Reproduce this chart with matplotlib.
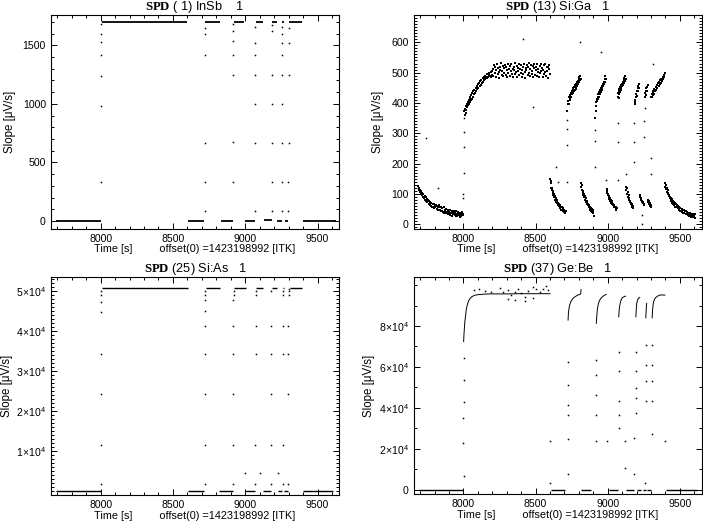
import matplotlib
matplotlib.use("Agg")
import matplotlib.pyplot as plt
from matplotlib.ticker import MultipleLocator, FixedLocator, FixedFormatter

plt.rcParams['font.family'] = ['Liberation Sans', 'DejaVu Sans']
plt.rcParams['mathtext.fontset'] = 'custom'
plt.rcParams['mathtext.rm'] = 'Liberation Sans'
plt.rcParams['mathtext.bf'] = 'Liberation Serif:bold'

# ---------------- common labels ----------------
XLABEL = "Time [s]         offset(0) =1423198992 [ITK]"
YLABEL = "Slope [\u03bcV/s]"
titles = [r"$\mathbf{SPD}$ ( 1) InSb    1", r"$\mathbf{SPD}$ (13) Si:Ga   1",
          r"$\mathbf{SPD}$ (25) Si:As   1", r"$\mathbf{SPD}$ (37) Ge:Be   1"]

# ---------------- InSb (panel 1) ----------------
insb_seg_start = [7690, 8007, 8607, 8724, 8830, 8919, 8995, 9071, 9130, 9186, 9222, 9256, 9273, 9302, 9402]
insb_seg_end   = [8000, 8600, 8718, 8826, 8914, 8988, 9066, 9126, 9182, 9218, 9252, 9270, 9296, 9395, 9625]
insb_seg_level = [0, 1700, 2, 1700, 0, 1700, 0, 1700, 6, 1700, 0, 1700, 0, 1700, 0]
insb_dot_t = [8001, 8001, 8002, 8002, 8003, 8004, 8005,
              8720, 8720, 8721, 8721, 8722, 8722,
              8915, 8915, 8916, 8916, 8917, 8917, 8918,
              9068, 9068, 9069, 9069, 9069, 9070, 9070,
              9184, 9184, 9185, 9185, 9186, 9186, 9186,
              9253, 9253, 9254, 9254, 9255, 9255, 9256, 9256, 9257,
              9298, 9298, 9299, 9299, 9300, 9300]
insb_dot_v = [330, 985, 1240, 1420, 1530, 1600, 1680,
              88, 330, 665, 1420, 1600, 1650,
              330, 672, 1246, 1417, 1540, 1625, 1680,
              88, 665, 999, 1246, 1417, 1520, 1660,
              88, 330, 665, 999, 1246, 1620, 1670,
              88, 330, 665, 999, 1246, 1417, 1520, 1600, 1660,
              88, 330, 665, 1246, 1520, 1650]

# ---------------- Si:Ga (panel 2) ----------------
siga_t1 = [7688, 7691, 7694, 7697, 7700, 7703, 7706, 7710, 7714, 7718, 7722, 7726, 7730, 7734, 7738, 7742,
           7746, 7750, 7754, 7758, 7762, 7766, 7770, 7774, 7778, 7782, 7786, 7790, 7794, 7798, 7802, 7806,
           7810, 7814, 7818, 7822, 7826, 7830, 7834, 7838, 7842, 7846, 7850, 7854, 7858, 7862, 7866, 7870,
           7874, 7878, 7882, 7886, 7890, 7894, 7898, 7902, 7906, 7910, 7914, 7918, 7922, 7926, 7930, 7934,
           7938, 7942, 7946, 7950, 7954, 7958, 7962, 7966, 7970, 7974, 7978, 7982, 7986, 7990, 7994, 7998]
siga_v1 = [125, 112, 118, 106, 114, 100, 108, 96, 104, 90, 98, 86, 93, 80, 88, 76,
           84, 72, 80, 68, 77, 64, 73, 60, 70, 58, 66, 55, 68, 52, 62, 56,
           64, 50, 60, 48, 57, 62, 46, 55, 44, 58, 42, 52, 40, 55, 38, 48,
           44, 36, 50, 40, 46, 34, 43, 38, 30, 48, 36, 42, 28, 40, 34, 45,
           30, 38, 26, 42, 33, 28, 40, 30, 36, 24, 38, 32, 27, 40, 30, 35]
siga_t2 = [8006, 8009, 8012, 8015, 8018, 8021, 8024, 8027, 8030, 8033, 8036, 8039, 8042, 8045, 8048, 8051,
           8054, 8057, 8060, 8064, 8068, 8072, 8076, 8080, 8084, 8088, 8092, 8096, 8100, 8104, 8108, 8112,
           8116, 8120, 8124, 8128, 8132, 8136, 8140, 8144, 8148, 8152, 8156, 8160, 8164, 8168, 8172, 8176,
           8180, 8184, 8188, 8192, 8196, 8200]
siga_v2 = [372, 360, 381, 368, 390, 378, 396, 385, 402, 392, 410, 398, 415, 404, 420, 410,
           426, 414, 432, 420, 438, 428, 444, 432, 450, 438, 455, 445, 461, 450, 466, 455,
           472, 460, 477, 466, 482, 470, 486, 475, 490, 478, 485, 494, 482, 497, 486, 492,
           500, 488, 503, 484, 506, 492]
siga_t3 = [8204, 8208, 8212, 8216, 8220, 8224, 8228, 8232, 8236, 8240, 8244, 8248, 8252, 8256, 8260, 8264,
           8268, 8272, 8276, 8280, 8284, 8288, 8292, 8296, 8300, 8304, 8308, 8312, 8316, 8320, 8324, 8328,
           8332, 8336, 8340, 8344, 8348, 8352, 8356, 8360, 8364, 8368, 8372, 8376, 8380, 8384, 8388, 8392,
           8396, 8400, 8404, 8408, 8412, 8416, 8420, 8424, 8428, 8432, 8436, 8440, 8444, 8448, 8452, 8456,
           8460, 8464, 8468, 8472, 8476, 8480, 8484, 8488, 8492, 8496, 8500, 8504, 8508, 8512, 8516, 8520,
           8524, 8528, 8532, 8536, 8540, 8544, 8548, 8552, 8556, 8560, 8564, 8568, 8572, 8576, 8580, 8584,
           8588, 8592, 8596, 8600]
siga_v3 = [512, 490, 524, 499, 517, 486, 508, 528, 495, 515, 502, 483, 520, 510, 531, 493,
           505, 522, 488, 514, 500, 526, 492, 517, 507, 484, 529, 498, 511, 521, 489, 504,
           527, 496, 513, 485, 519, 508, 532, 494, 501, 523, 487, 516, 506, 530, 491, 512,
           498, 525, 486, 509, 520, 495, 528, 503, 483, 515, 507, 524, 492, 518, 500, 531,
           488, 511, 526, 497, 505, 521, 484, 514, 529, 493, 508, 519, 490, 527, 502, 513,
           487, 522, 498, 530, 506, 516, 485, 510, 524, 494, 501, 528, 489, 517, 504, 520,
           483, 512, 526, 496]
siga_t4 = [8602, 8604, 8606, 8609, 8612, 8615, 8618, 8621, 8624, 8627, 8630, 8633, 8636, 8639, 8642, 8645,
           8648, 8651, 8654, 8657, 8660, 8663, 8666, 8669, 8672, 8675, 8678, 8681, 8684, 8687, 8690, 8693,
           8696, 8699, 8702, 8705, 8708]
siga_v4 = [150, 135, 142, 120, 112, 118, 102, 108, 95, 100, 88, 92, 80, 86, 74, 80,
           70, 76, 64, 70, 60, 66, 56, 62, 52, 58, 48, 55, 46, 52, 44, 50,
           40, 48, 38, 45, 42]
siga_t5 = [8720, 8723, 8726, 8729, 8732, 8735, 8738, 8741, 8744, 8747, 8750, 8753, 8756, 8759, 8762, 8765,
           8768, 8771, 8774, 8777, 8780, 8783, 8786, 8789, 8792, 8795, 8798, 8801, 8804, 8807, 8810, 8812]
siga_v5 = [372, 395, 405, 398, 418, 408, 425, 415, 432, 420, 438, 428, 442, 432, 448, 438,
           452, 443, 458, 447, 462, 452, 468, 456, 472, 462, 478, 468, 484, 474, 490, 480]
siga_t6 = [8815, 8817, 8820, 8823, 8826, 8829, 8832, 8835, 8838, 8841, 8844, 8847, 8850, 8853, 8856, 8859,
           8862, 8865, 8868, 8871, 8874, 8877, 8880, 8883, 8886, 8889, 8892, 8895, 8898, 8901, 8904]
siga_v6 = [136, 122, 128, 112, 104, 110, 96, 100, 88, 92, 80, 85, 74, 78, 68, 72,
           62, 67, 58, 62, 52, 57, 48, 53, 44, 50, 40, 46, 36, 42, 28]
siga_t7 = [8914, 8916, 8918, 8921, 8924, 8927, 8930, 8933, 8936, 8939, 8942, 8945, 8948, 8951, 8954, 8957,
           8960, 8963, 8966, 8969, 8972, 8975, 8978, 8981, 8984, 8986]
siga_v7 = [350, 372, 390, 402, 412, 405, 420, 412, 428, 420, 436, 428, 444, 436, 450, 442,
           456, 448, 462, 455, 470, 462, 478, 470, 488, 480]
siga_t8 = [8992, 8994, 8997, 9000, 9003, 9006, 9009, 9012, 9015, 9018, 9021, 9024, 9027, 9030, 9033, 9036,
           9039, 9042, 9045, 9048, 9051, 9054, 9057, 9060, 9062]
siga_v8 = [116, 104, 110, 96, 100, 88, 93, 82, 86, 76, 80, 70, 75, 66, 70, 62,
           66, 58, 62, 55, 58, 50, 55, 48, 52]
siga_t9 = [9071, 9073, 9075, 9077, 9079, 9081, 9083, 9086, 9089, 9092, 9095, 9098, 9101, 9104, 9107, 9110,
           9113, 9116, 9119, 9122, 9124]
siga_v9 = [420, 432, 415, 440, 428, 445, 435, 452, 442, 458, 448, 464, 455, 470, 460, 476,
           466, 482, 472, 488, 478]
siga_t10 = [9128, 9130, 9132, 9135, 9138, 9141, 9144, 9147, 9150, 9153, 9156, 9159, 9162, 9165, 9168, 9171,
            9174, 9176]
siga_v10 = [124, 112, 118, 100, 106, 90, 95, 80, 86, 72, 78, 66, 70, 60, 65, 56, 60, 52]
siga_t11 = [9186, 9189, 9192, 9195, 9198, 9201, 9204, 9207, 9210, 9213, 9216, 9219]
siga_v11 = [395, 410, 402, 420, 430, 422, 440, 448, 438, 455, 462, 450]
siga_t12 = [9221, 9224, 9227, 9230, 9233, 9236, 9239, 9242, 9245, 9248, 9251, 9254]
siga_v12 = [96, 88, 92, 80, 85, 74, 78, 70, 73, 65, 68, 62]
siga_t13 = [9256, 9259, 9262, 9265, 9268, 9271, 9274, 9277]
siga_v13 = [420, 432, 425, 440, 448, 438, 452, 459]
siga_t14 = [9279, 9282, 9285, 9288, 9291, 9294, 9297, 9300]
siga_v14 = [80, 72, 76, 66, 70, 60, 64, 56]
siga_t15 = [9302, 9305, 9308, 9311, 9314, 9317, 9320, 9324, 9328, 9332, 9336, 9340, 9344, 9348, 9352, 9356,
            9360, 9364, 9368, 9372, 9376, 9380, 9384, 9388, 9392, 9394]
siga_v15 = [420, 428, 418, 432, 425, 438, 430, 445, 438, 452, 444, 458, 450, 465, 456, 470,
            462, 475, 466, 480, 472, 485, 478, 492, 484, 498]
siga_t16 = [9398, 9400, 9403, 9406, 9409, 9412, 9415, 9418, 9421, 9424, 9427, 9430, 9433, 9436, 9439, 9442,
            9445, 9448, 9451, 9454, 9457, 9460, 9464, 9468, 9472, 9476, 9480, 9484, 9488, 9492, 9496, 9500,
            9504, 9508, 9512, 9516, 9520, 9524, 9528, 9532, 9536, 9540, 9544, 9548, 9552, 9556, 9560, 9564,
            9568, 9572, 9576, 9580, 9584, 9588, 9592, 9596, 9600, 9604, 9608]
siga_v16 = [135, 124, 128, 115, 120, 106, 112, 98, 104, 92, 97, 86, 91, 80, 86, 75,
            82, 70, 77, 66, 73, 62, 70, 58, 66, 55, 62, 52, 60, 48, 56, 45,
            53, 42, 50, 40, 48, 38, 46, 36, 44, 34, 42, 32, 40, 30, 38, 28,
            36, 30, 24, 34, 27, 32, 22, 30, 25, 33, 20]
siga_dot_t = [7743, 7820, 8000, 8000, 8001, 8001, 8002, 8003, 8412, 8482, 8642, 8653,
              8717, 8718, 8718, 8719, 8806, 8912, 8912, 8913, 8956, 8990,
              9069, 9069, 9070, 9130, 9184, 9184, 9185, 9239, 9240,
              9254, 9254, 9255, 9300, 9300, 9313]
siga_dot_v = [283, 118, 98, 85, 170, 255, 305, 350, 610, 387, 189, 140,
              140, 260, 315, 345, 600, 190, 275, 310, 567, 145,
              145, 272, 333, 167, 206, 272, 333, 30, 2,
              288, 340, 384, 167, 217, 528]

# ---------------- Si:As (panel 3) ----------------
sias_seg_start = [7690, 8008, 8607, 8729, 8820, 8921, 9000, 9074, 9126, 9186, 9223, 9260, 9271, 9306, 9402]
sias_seg_end   = [8000, 8607, 8717, 8828, 8913, 9005, 9069, 9126, 9177, 9218, 9253, 9270, 9294, 9391, 9609]
sias_seg_level = [200, 50800, 200, 50800, 200, 50800, 200, 50800, 200, 50800, 200, 50800, 200, 50800, 200]
sias_dot_t = [8001, 8001, 8002, 8002, 8003, 8004, 8005, 8006,
              8719, 8719, 8720, 8720, 8721, 8721, 8722, 8722, 8724,
              8915, 8915, 8916, 8916, 8917, 8918, 8919, 8920,
              9000,
              9070, 9070, 9071, 9071, 9072, 9073,
              9105,
              9177, 9177, 9178, 9178, 9179, 9181,
              9223,
              9258, 9258, 9259, 9259, 9260, 9262,
              9297, 9297, 9298, 9298, 9299, 9300, 9302]
sias_dot_v = [1900, 11650, 24400, 34400, 44800, 47300, 49000, 50100,
              1900, 11650, 24400, 34400, 41330, 45000, 47750, 49000, 50100,
              1900, 11650, 24400, 34400, 41330, 47750, 49000, 50100,
              4650,
              1900, 11650, 34400, 41330, 49000, 50100,
              4650,
              1900, 11650, 24400, 34400, 41330, 50100,
              4650,
              1900, 11650, 34400, 41330, 49000, 50100,
              1900, 24400, 34400, 41330, 49000, 50100, 50500]

# ---------------- Ge:Be (panel 4) ----------------
gebe_seg_start = [7690, 8604, 8817, 9010, 9125, 9206, 9246, 9272, 9403]
gebe_seg_end   = [8000, 8701, 8887, 9072, 9183, 9229, 9262, 9298, 9616]
gebe_seg_level = [0, 0, 0, 0, 0, 0, 0, 0, 0]
gebe_rise1_t = [8001, 8004, 8007, 8010, 8014, 8019, 8026, 8034, 8042, 8055, 8076, 8100, 8146, 8200, 8300, 8400, 8500, 8600]
gebe_rise1_v = [72400, 76500, 79700, 82500, 84500, 87800, 90200, 92000, 93100, 94200, 95000, 95300, 95600, 95700, 95700, 95800, 95800, 95800]
gebe_rise2_t = [8725, 8728, 8732, 8736, 8745, 8760, 8778, 8794, 8805, 8812, 8815]
gebe_rise2_v = [82900, 86800, 88800, 90200, 92000, 93600, 94500, 95200, 95400, 95600, 97800]
gebe_rise3_t = [8921, 8924, 8928, 8933, 8941, 8951, 8965, 8979, 8990]
gebe_rise3_v = [81300, 84800, 88000, 90200, 92200, 93400, 94400, 95100, 95400]
gebe_rise4_t = [9076, 9079, 9082, 9086, 9093, 9100, 9112, 9123]
gebe_rise4_v = [84500, 87500, 89500, 91000, 92800, 93800, 94300, 94600]
gebe_rise5_t = [9195, 9197, 9199, 9201, 9206, 9211, 9217, 9222]
gebe_rise5_v = [84500, 87200, 89300, 91000, 92500, 93400, 93800, 94000]
gebe_rise6_t = [9264, 9266, 9268, 9270]
gebe_rise6_v = [84000, 87000, 89500, 91000]
gebe_rise7_t = [9308, 9310, 9313, 9317, 9323, 9331, 9345, 9361, 9378, 9396]
gebe_rise7_v = [84000, 87000, 89500, 91600, 92900, 93800, 94600, 95100, 95200, 95100]
gebe_dot_t = [8000, 8000, 8001, 8001, 8002, 8002,
              8076, 8111, 8146, 8192, 8250, 8273, 8308, 8331, 8354, 8378, 8401, 8424, 8447, 8482,
              8505, 8528, 8551, 8574, 8586, 8308, 8354, 8424, 8482,
              8602, 8602,
              8724, 8724, 8725, 8725, 8726, 8726,
              8920, 8920, 8921, 8921, 8922, 8996,
              9075, 9075, 9076, 9076, 9077, 9123, 9123,
              9194, 9194, 9195, 9195, 9196, 9183, 9183,
              9262, 9262, 9263, 9263, 9255,
              9306, 9306, 9307, 9307, 9304, 9396]
gebe_dot_v = [22900, 35000, 43000, 53700, 64200, 6700,
              97500, 98300, 97000, 96700, 98600, 96400, 97500, 95100, 96700, 98000, 95900, 94300, 97000, 99100,
              98000, 96400, 98300, 99600, 97500, 93400, 92600, 92100, 93800,
              24000, 3200,
              62600, 51300, 41600, 36300, 25000, 7500,
              63400, 56100, 46400, 36700, 23700, 23700,
              67500, 57800, 43200, 36700, 30200, 23700, 10700,
              67500, 57800, 49600, 44800, 37500, 25300, 7500,
              70700, 61000, 52900, 43200, 3500,
              70700, 61000, 52900, 43200, 27000, 23700]

# ---------------- figure ----------------
fig = plt.figure(figsize=(7.03, 5.24), dpi=100)
W, H = 703.0, 524.0
boxes = [(50.7, 14.7, 339.3, 228.7), (413.7, 14.7, 701.5, 228.7),
         (50.7, 276.7, 339.3, 495.3), (413.7, 276.7, 701.5, 494.3)]
axes = []
for (l, t, r, b) in boxes:
    axes.append(fig.add_axes([l / W, 1 - b / H, (r - l) / W, (b - t) / H]))

MS = 1.1
def dots(ax, t, v, ms=MS):
    ax.plot(t, v, linestyle='none', marker='s', markersize=ms, markeredgewidth=0,
            color='black')

def segs(ax, s, e, lv, lw=1.0):
    ax.hlines(lv, s, e, colors='black', linewidth=lw)

ax1, ax2, ax3, ax4 = axes
# panel 1
segs(ax1, insb_seg_start, insb_seg_end, insb_seg_level, lw=1.3)
dots(ax1, insb_dot_t, insb_dot_v)
ax1.set_ylim(-66, 1761)
ax1.yaxis.set_major_locator(MultipleLocator(500))
ax1.yaxis.set_minor_locator(MultipleLocator(100))

# panel 2
for tt, vv in [(siga_t1, siga_v1), (siga_t2, siga_v2), (siga_t3, siga_v3), (siga_t4, siga_v4),
               (siga_t5, siga_v5), (siga_t6, siga_v6), (siga_t7, siga_v7), (siga_t8, siga_v8),
               (siga_t9, siga_v9), (siga_t10, siga_v10), (siga_t11, siga_v11), (siga_t12, siga_v12),
               (siga_t13, siga_v13), (siga_t14, siga_v14), (siga_t15, siga_v15), (siga_t16, siga_v16)]:
    dots(ax2, tt, vv, ms=1.5)
dots(ax2, siga_dot_t, siga_dot_v)
ax2.set_ylim(-15, 691)
ax2.yaxis.set_major_locator(MultipleLocator(100))
ax2.yaxis.set_minor_locator(MultipleLocator(10))

# panel 3
segs(ax3, sias_seg_start, sias_seg_end, sias_seg_level, lw=1.0)
dots(ax3, sias_dot_t, sias_dot_v)
ax3.set_ylim(-1000, 53650)
ax3.yaxis.set_major_locator(FixedLocator([10000, 20000, 30000, 40000, 50000]))
ax3.yaxis.set_major_formatter(FixedFormatter([r"$1\!\times\!10^{4}$", r"$2\!\times\!10^{4}$",
                                              r"$3\!\times\!10^{4}$", r"$4\!\times\!10^{4}$",
                                              r"$5\!\times\!10^{4}$"]))
ax3.yaxis.set_minor_locator(MultipleLocator(1000))

# panel 4
segs(ax4, gebe_seg_start, gebe_seg_end, gebe_seg_level, lw=1.0)
for tt, vv in [(gebe_rise1_t, gebe_rise1_v), (gebe_rise2_t, gebe_rise2_v), (gebe_rise3_t, gebe_rise3_v),
               (gebe_rise4_t, gebe_rise4_v), (gebe_rise5_t, gebe_rise5_v), (gebe_rise6_t, gebe_rise6_v),
               (gebe_rise7_t, gebe_rise7_v)]:
    ax4.plot(tt, vv, color='black', linewidth=0.7)
dots(ax4, gebe_dot_t, gebe_dot_v)
ax4.set_ylim(-2240, 104100)
ax4.yaxis.set_major_locator(FixedLocator([0, 20000, 40000, 60000, 80000]))
ax4.yaxis.set_major_formatter(FixedFormatter(["0", r"$2\!\times\!10^{4}$", r"$4\!\times\!10^{4}$",
                                              r"$6\!\times\!10^{4}$", r"$8\!\times\!10^{4}$"]))
ax4.yaxis.set_minor_locator(MultipleLocator(10000))

ylabel_x = [16, 384, 13, 375]
for i, ax in enumerate(axes):
    ax.set_xlim(7655, 9650)
    ax.xaxis.set_major_locator(MultipleLocator(500))
    ax.xaxis.set_minor_locator(MultipleLocator(100))
    ax.tick_params(which='both', direction='in', top=True, right=True, labelsize=7.6,
                   width=0.7, pad=3.5)
    ax.tick_params(which='major', length=4.5)
    ax.tick_params(which='minor', length=2.2)
    for sp in ax.spines.values():
        sp.set_linewidth(0.8)
    ax.set_title(titles[i], fontsize=9.2, pad=1.8)
    ax.set_xlabel(XLABEL, fontsize=7.8, labelpad=0.5)
    ax.set_ylabel(YLABEL, fontsize=8.3)
    l, t, r, b = boxes[i]
    ax.yaxis.set_label_coords((ylabel_x[i] - l) / (r - l), 0.5)

fig.savefig("out.png", dpi=100)
